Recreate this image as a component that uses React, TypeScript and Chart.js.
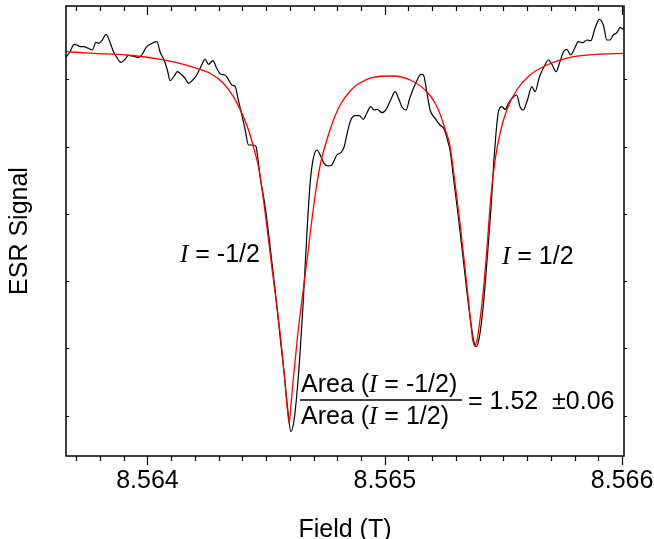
import React, { useEffect, useRef } from "react";
import { Chart, registerables } from "chart.js";

Chart.register(...registerables);

// Measured ESR signal (arbitrary units)
const fieldData = [
  8.563657, 8.563674, 8.563691, 8.563703, 8.563716, 8.563733, 8.563751, 8.563768, 8.563783, 8.563794,
  8.563808, 8.563826, 8.56384, 8.563857, 8.563871, 8.563888, 8.563906, 8.56392, 8.563934, 8.563948,
  8.563962, 8.563976, 8.563995, 8.564014, 8.56404, 8.564054, 8.56407, 8.564084, 8.564096, 8.564113,
  8.564126, 8.564145, 8.564159, 8.564173, 8.564191, 8.564208, 8.564225, 8.564243, 8.564257, 8.564276,
  8.564292, 8.564309, 8.564327, 8.564341, 8.564356, 8.56437, 8.564383, 8.564398, 8.564412, 8.564426,
  8.564444, 8.564458, 8.564466, 8.564475, 8.564496, 8.564517, 8.564538, 8.564559, 8.564576, 8.56459,
  8.564605, 8.564618, 8.56463, 8.564643, 8.564657, 8.564672, 8.564686, 8.564699, 8.564714, 8.564728,
  8.564744, 8.564763, 8.564777, 8.564798, 8.564815, 8.564829, 8.564843, 8.564857, 8.564875, 8.564893,
  8.56491, 8.564924, 8.564941, 8.564955, 8.564969, 8.564988, 8.565006, 8.565026, 8.565044, 8.565058,
  8.565072, 8.56509, 8.565104, 8.565121, 8.565138, 8.565152, 8.565163, 8.565177, 8.565191, 8.565212,
  8.565233, 8.56525, 8.565268, 8.565275, 8.565289, 8.56531, 8.565331, 8.565352, 8.565374, 8.565385,
  8.565399, 8.565416, 8.56543, 8.565447, 8.565461, 8.565479, 8.565493, 8.565507, 8.565521, 8.56554,
  8.565556, 8.56557, 8.565584, 8.565601, 8.56562, 8.565633, 8.565652, 8.565671, 8.56569, 8.565706,
  8.565722, 8.565736, 8.565753, 8.565767, 8.565784, 8.565798, 8.565816, 8.565834, 8.565851, 8.565868,
  8.565886, 8.565904, 8.565921, 8.565936, 8.565949, 8.565963, 8.565978, 8.565992, 8.566006,
];
const signalData = [
  398.7, 404.3, 411.7, 411, 409.3, 409.3, 407.7, 406, 413.7, 412.7,
  415.3, 421.7, 415.3, 404.3, 398.7, 393.7, 396.7, 400.7, 400, 399.3,
  398.3, 401, 408.7, 412, 414.3, 403.7, 396, 386, 375.3, 380,
  384.3, 381, 377.7, 372.7, 376, 381, 389.3, 396.7, 391.7, 395.3,
  387.7, 381.7, 381, 376.7, 371, 369.3, 356, 341, 326, 311,
  311, 309.3, 296, 279.3, 249.3, 209.3, 166, 119.3, 82.7, 49.3,
  24.3, 36, 62.7, 102.7, 156, 222.7, 274.3, 297.7, 306, 301,
  292.7, 290, 291, 301, 303.3, 309.3, 324.3, 336, 340.3, 340.3,
  336.7, 342.7, 349.3, 346, 346.7, 343.3, 346.7, 356.7, 364.3, 357.7,
  349.3, 346, 356.7, 367.7, 376.7, 381.7, 381, 364.3, 346, 337.7,
  331, 327, 312.7, 306, 279.3, 239.3, 196, 152.7, 116, 109.3,
  119.3, 152.7, 192.7, 246, 299.3, 344.3, 349.3, 346.7, 352.7, 358.7,
  361, 349.3, 346, 356, 369.3, 364.3, 379.3, 389.3, 396, 391,
  384.3, 392.7, 404.3, 406.7, 401, 406.7, 414.3, 413.3, 416, 415.3,
  427.7, 436.7, 431, 416, 416, 421, 423.3, 428.7, 426,
];

// Fit curve (red)
const fieldFit = [
  8.563657, 8.563772, 8.563913, 8.564054, 8.564124, 8.564194, 8.564264, 8.56432, 8.564362, 8.564398,
  8.564426, 8.564454, 8.564468, 8.564489, 8.564524, 8.564559, 8.56458, 8.56459, 8.564597, 8.564603,
  8.564613, 8.564634, 8.564651, 8.564669, 8.564704, 8.564728, 8.564756, 8.564784, 8.564812, 8.564854,
  8.564882, 8.564952, 8.56503, 8.565107, 8.565177, 8.565212, 8.565233, 8.565254, 8.565275, 8.565296,
  8.565317, 8.565339, 8.56536, 8.56537, 8.565379, 8.565388, 8.565395, 8.565413, 8.56543, 8.565447,
  8.565465, 8.565486, 8.565514, 8.565556, 8.565612, 8.565683, 8.565795, 8.565893, 8.566006,
];
const signalFit = [
  404.3, 402.7, 401, 396.7, 393.3, 388.7, 382.7, 372.7, 359.3, 342.7,
  326, 302.7, 289.3, 256, 189.3, 123, 73, 46, 33, 46,
  73, 123, 156, 189.3, 256, 291, 316, 336, 351, 365,
  371, 378.7, 380, 376, 364.3, 353, 342, 327, 310, 273,
  233, 186, 139, 117, 110, 115, 125, 160, 206, 259.3,
  296, 323, 346, 366, 381, 391, 399.3, 401.7, 402.7,
];

const xMin = 8.563657;
const xMax = 8.566008;
const xMajorTicks = [8.564, 8.565, 8.566];
const xMinorStart = 8.5637;
const xMinorStep = 0.0001;
const xMinorCount = 24;
const yMin = 0;
const yMax = 450;
const yTicks = [40, 108, 175, 242, 309, 377];

const xTitle = "Field (T)";
const yTitle = "ESR Signal";

const SANS = "'Liberation Sans', Arial, sans-serif";
const SERIF = "'Liberation Serif', 'Times New Roman', serif";
const FS = 25;

type Part = { t: string; it?: boolean };

function drawRich(ctx: CanvasRenderingContext2D, x: number, y: number, parts: Part[]) {
  let cx = x;
  for (const p of parts) {
    ctx.font = p.it ? `italic ${FS}px ${SERIF}` : `${FS}px ${SANS}`;
    ctx.fillText(p.t, cx, y);
    cx += ctx.measureText(p.t).width;
  }
  return cx;
}

const framePlugin = {
  id: "frame",
  afterDraw(chart: any) {
    const { ctx, chartArea: a, scales } = chart;
    const x = scales.x;
    const y = scales.y;
    ctx.save();
    ctx.strokeStyle = "#000";
    ctx.lineWidth = 1.5;
    ctx.strokeRect(a.left, a.top, a.right - a.left, a.bottom - a.top);
    ctx.lineWidth = 1.2;
    ctx.beginPath();
    for (let i = 0; i < xMinorCount; i++) {
      const v = xMinorStart + i * xMinorStep;
      const major = xMajorTicks.some((m) => Math.abs(m - v) < 1e-8);
      const len = major ? 9 : 5;
      const px = Math.round(x.getPixelForValue(v)) + 0.5;
      ctx.moveTo(px, a.bottom);
      ctx.lineTo(px, a.bottom + len);
      ctx.moveTo(px, a.top);
      ctx.lineTo(px, a.top + len);
    }
    for (const v of yTicks) {
      const py = Math.round(y.getPixelForValue(v)) + 0.5;
      ctx.moveTo(a.left, py);
      ctx.lineTo(a.left + 3, py);
      ctx.moveTo(a.right, py);
      ctx.lineTo(a.right + 3, py);
    }
    ctx.stroke();

    // annotations
    ctx.fillStyle = "#000";
    ctx.textBaseline = "alphabetic";
    ctx.textAlign = "left";
    drawRich(ctx, 180, 262, [{ t: "I", it: true }, { t: " = -1/2" }]);
    drawRich(ctx, 502, 264, [{ t: "I", it: true }, { t: " = 1/2" }]);
    const numEnd = drawRich(ctx, 301, 392, [{ t: "Area (" }, { t: "I", it: true }, { t: " = -1/2)" }]);
    drawRich(ctx, 301, 423.5, [{ t: "Area (" }, { t: "I", it: true }, { t: " = 1/2)" }]);
    ctx.lineWidth = 1.3;
    ctx.beginPath();
    ctx.moveTo(300, 400);
    ctx.lineTo(Math.max(numEnd + 3, 462), 400);
    ctx.stroke();
    drawRich(ctx, 468, 409, [{ t: "= 1.52  \u00b10.06" }]);
    ctx.restore();
  },
};

export default function App() {
  const ref = useRef<HTMLCanvasElement | null>(null);
  useEffect(() => {
    document.body.style.margin = "0";
    const canvas = ref.current;
    if (!canvas) return;
    const measured = fieldData.map((f, i) => ({ x: f, y: signalData[i] }));
    const fit = fieldFit.map((f, i) => ({ x: f, y: signalFit[i] }));
    const chart = new Chart(canvas, {
      type: "line",
      data: {
        datasets: [
          {
            label: "fit",
            data: fit,
            borderColor: "#ff0000",
            borderWidth: 1.3,
            pointRadius: 0,
            cubicInterpolationMode: "monotone",
            fill: false,
          },
          {
            label: "data",
            data: measured,
            borderColor: "#000000",
            borderWidth: 1.2,
            pointRadius: 0,
            cubicInterpolationMode: "monotone",
            fill: false,
          },
        ],
      },
      options: {
        responsive: false,
        animation: false,
        events: [],
        layout: { padding: { top: 6, right: 30, left: 0, bottom: 0 } },
        plugins: { legend: { display: false }, tooltip: { enabled: false } },
        scales: {
          x: {
            type: "linear",
            min: xMin,
            max: xMax,
            grid: { display: false, drawTicks: false },
            border: { display: false },
            afterBuildTicks: (s: any) => {
              s.ticks = xMajorTicks.map((v) => ({ value: v }));
            },
            afterFit: (s: any) => {
              s.height = 83;
              s.paddingLeft = 0;
              s.paddingRight = 0;
            },
            ticks: {
              autoSkip: false,
              maxRotation: 0,
              padding: 10,
              color: "#000",
              font: { family: SANS, size: FS },
              callback: (v: any) => Number(v).toFixed(3),
            },
            title: {
              display: true,
              text: xTitle,
              color: "#000",
              font: { family: SANS, size: FS },
              padding: { top: 0, bottom: -6 },
            },
          },
          y: {
            type: "linear",
            min: yMin,
            max: yMax,
            grid: { display: false, drawTicks: false },
            border: { display: false },
            ticks: { display: false },
            afterFit: (s: any) => {
              s.width = 66;
              s.paddingTop = 0;
              s.paddingBottom = 0;
            },
            title: {
              display: true,
              text: yTitle,
              color: "#000",
              font: { family: SANS, size: FS },
              padding: { top: 5, bottom: 0 },
            },
          },
        },
      },
      plugins: [framePlugin],
    } as any);
    return () => chart.destroy();
  }, []);
  return <canvas ref={ref} width={654} height={539} style={{ display: "block" }} />;
}
